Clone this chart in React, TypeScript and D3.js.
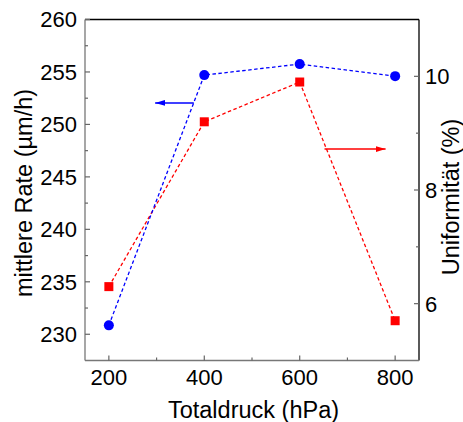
import React, { useEffect, useRef } from 'react'
import * as d3 from 'd3'

const pressures = [200, 400, 600, 800]
const rateValues = [230.85, 254.7, 255.75, 254.6]
const uniformityValues = [6.3, 9.2, 9.9, 5.7]
const xTicks = [200, 400, 600, 800]
const leftTicks = [230, 235, 240, 245, 250, 255, 260]
const rightTicks = [6, 8, 10]

const W = 463
const H = 422
const M = { left: 85, top: 19.5, right: 419, bottom: 360.5 }
const FONT = 'Liberation Sans, Arial, sans-serif'
const TICK_FS = 22
const TITLE_FS = 23.5

export default function App() {
  const svgRef = useRef<SVGSVGElement>(null)

  useEffect(() => {
    const svg = d3.select(svgRef.current)
    svg.selectAll('*').remove()

    const x = d3.scaleLinear().domain([150, 850]).range([M.left, M.right])
    const yL = d3.scaleLinear().domain([227.5, 260]).range([M.bottom, M.top])
    const yR = d3.scaleLinear().domain([5, 11]).range([M.bottom, M.top])

    const defs = svg.append('defs')
    const mk = (id: string, color: string) =>
      defs.append('marker')
        .attr('id', id)
        .attr('viewBox', '0 0 10 6')
        .attr('refX', 10).attr('refY', 3)
        .attr('markerWidth', 10).attr('markerHeight', 6)
        .attr('markerUnits', 'userSpaceOnUse')
        .attr('orient', 'auto')
        .append('path').attr('d', 'M0,0 L10,3 L0,6 Z').attr('fill', color)
    mk('arrBlue', '#0000ff')
    mk('arrRed', '#ff0000')

    // frame
    const g = svg.append('g')
    g.append('line').attr('x1', M.left).attr('x2', M.right).attr('y1', M.top).attr('y2', M.top)
      .attr('stroke', '#000').attr('stroke-width', 1.3)
    g.append('line').attr('x1', M.right).attr('x2', M.right).attr('y1', M.top).attr('y2', M.bottom)
      .attr('stroke', '#000').attr('stroke-width', 1.3)
    g.append('line').attr('x1', M.left).attr('x2', M.left).attr('y1', M.top).attr('y2', M.bottom)
      .attr('stroke', '#777').attr('stroke-width', 1.3)
    g.append('line').attr('x1', M.left).attr('x2', M.right).attr('y1', M.bottom).attr('y2', M.bottom)
      .attr('stroke', '#777').attr('stroke-width', 1.3)

    // ticks (all inward)
    const tickCol = '#666'
    xTicks.forEach(v => {
      g.append('line').attr('x1', x(v)).attr('x2', x(v)).attr('y1', M.bottom).attr('y2', M.bottom - 5)
        .attr('stroke', tickCol).attr('stroke-width', 1.2)
      g.append('text').attr('x', x(v)).attr('y', 385).attr('text-anchor', 'middle')
        .attr('font-family', FONT).attr('font-size', TICK_FS).text(v)
    })
    ;[300, 500, 700].forEach(v => {
      g.append('line').attr('x1', x(v)).attr('x2', x(v)).attr('y1', M.bottom).attr('y2', M.bottom - 3)
        .attr('stroke', tickCol).attr('stroke-width', 1.2)
    })
    leftTicks.forEach(v => {
      g.append('line').attr('x1', M.left).attr('x2', M.left + 5).attr('y1', yL(v)).attr('y2', yL(v))
        .attr('stroke', tickCol).attr('stroke-width', 1.2)
      g.append('text').attr('x', 77).attr('y', yL(v)).attr('dy', '0.36em').attr('text-anchor', 'end')
        .attr('font-family', FONT).attr('font-size', TICK_FS).text(v)
    })
    ;[232.5, 237.5, 242.5, 247.5, 252.5, 257.5].forEach(v => {
      g.append('line').attr('x1', M.left).attr('x2', M.left + 3).attr('y1', yL(v)).attr('y2', yL(v))
        .attr('stroke', tickCol).attr('stroke-width', 1.2)
    })
    rightTicks.forEach(v => {
      g.append('line').attr('x1', M.right).attr('x2', M.right - 5).attr('y1', yR(v)).attr('y2', yR(v))
        .attr('stroke', tickCol).attr('stroke-width', 1.2)
      g.append('text').attr('x', 425).attr('y', yR(v)).attr('dy', '0.36em').attr('text-anchor', 'start')
        .attr('font-family', FONT).attr('font-size', TICK_FS).text(v)
    })
    ;[7, 9].forEach(v => {
      g.append('line').attr('x1', M.right).attr('x2', M.right - 3).attr('y1', yR(v)).attr('y2', yR(v))
        .attr('stroke', tickCol).attr('stroke-width', 1.2)
    })

    // axis titles
    g.append('text').attr('x', 253.5).attr('y', 418).attr('text-anchor', 'middle')
      .attr('font-family', FONT).attr('font-size', TITLE_FS).text('Totaldruck (hPa)')
    g.append('text').attr('transform', 'translate(32,193) rotate(-90)')
      .attr('text-anchor', 'middle').attr('font-family', FONT).attr('font-size', TITLE_FS)
      .text('mittlere Rate (µm/h)')
    g.append('text').attr('transform', 'translate(459,197) rotate(-90)')
      .attr('text-anchor', 'middle').attr('font-family', FONT).attr('font-size', TITLE_FS)
      .text('Uniformität (%)')

    // series
    const rateLine = d3.line<number>().x((_, i) => x(pressures[i])).y(d => yL(d))
    const uniLine = d3.line<number>().x((_, i) => x(pressures[i])).y(d => yR(d))

    g.append('path').attr('d', uniLine(uniformityValues)).attr('fill', 'none')
      .attr('stroke', '#ff0000').attr('stroke-width', 1.3).attr('stroke-dasharray', '3.5,2.5')
    g.append('path').attr('d', rateLine(rateValues)).attr('fill', 'none')
      .attr('stroke', '#0000ff').attr('stroke-width', 1.3).attr('stroke-dasharray', '3.5,2.5')

    g.selectAll('.sq').data(uniformityValues).enter().append('rect')
      .attr('x', (_, i) => x(pressures[i]) - 4.5).attr('y', d => yR(d) - 4.5)
      .attr('width', 9).attr('height', 9).attr('fill', '#ff0000')
    g.selectAll('.dot').data(rateValues).enter().append('circle')
      .attr('cx', (_, i) => x(pressures[i])).attr('cy', d => yL(d)).attr('r', 5)
      .attr('fill', '#0000ff')

    // arrows pointing to respective axes
    g.append('line').attr('x1', x(378)).attr('x2', x(297)).attr('y1', yL(252.05)).attr('y2', yL(252.05))
      .attr('stroke', '#0000ff').attr('stroke-width', 1.5).attr('marker-end', 'url(#arrBlue)')
    g.append('line').attr('x1', x(652)).attr('x2', x(780)).attr('y1', yR(8.72)).attr('y2', yR(8.72))
      .attr('stroke', '#ff0000').attr('stroke-width', 1.5).attr('marker-end', 'url(#arrRed)')
  }, [])

  return (
    <div style={{ position: 'fixed', left: 0, top: 0, width: W, height: H, background: '#fff' }}>
      <svg ref={svgRef} width={W} height={H} />
    </div>
  )
}
